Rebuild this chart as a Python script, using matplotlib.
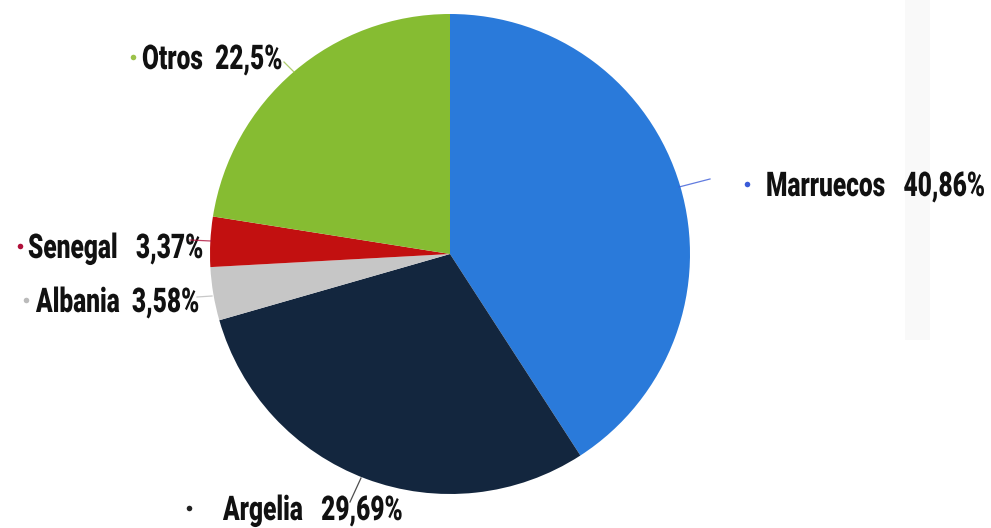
import matplotlib
matplotlib.use("Agg")
from matplotlib import pyplot as plt
from matplotlib.textpath import TextPath
from matplotlib.patches import PathPatch
from matplotlib.font_manager import FontProperties
from matplotlib.transforms import Affine2D

countries = ["Marruecos", "Argelia", "Albania", "Senegal", "Otros"]
shares = [40.86, 29.69, 3.58, 3.37, 22.5]
share_labels = ["40,86%", "29,69%", "3,58%", "3,37%", "22,5%"]
colors = ["#2a7ada", "#13263e", "#c6c6c6", "#c21010", "#86bc32"]
dot_colors = ["#3a5bd8", "#222222", "#bbbbbb", "#b0103a", "#9cc24a"]

# label placement in pixels (dot x, dot y, text start x), leader line start/end
label_pos = [(747, 184, 766), (189, 508, 223), (26, 300, 36), (20, 246, 28), (133, 57, 142)]
text_gap = ["   ", "   ", "  ", "   ", "  "]
leaders = [((679, 187), (710, 179)),
           ((361, 478), (350, 502)),
           ((212, 296), (197, 297)),
           ((211, 241), (190, 240)),
           ((294, 72), (284, 62))]

W, H = 991, 528
fig = plt.figure(figsize=(W / 100, H / 100), dpi=100)
ax = fig.add_axes([0, 0, 1, 1])

ax.pie(shares, colors=colors, startangle=90, counterclock=False,
       center=(450, H - 254), radius=240, frame=True,
       wedgeprops={"linewidth": 0})
ax.set_xlim(0, W)
ax.set_ylim(0, H)
ax.set_aspect("equal")
ax.axis("off")

# faint shadow band on the right, as in the screenshot
ax.axvspan(905, 930, ymin=(H - 340) / H, ymax=1, color="#f9f9f9", lw=0, zorder=0)

prop = FontProperties(family="Roboto", weight="black")
squeeze = 0.72
for i in range(len(countries)):
    x, y, tx = label_pos[i]
    (x0, y0), (x1, y1) = leaders[i]
    ax.plot([x0, x1], [H - y0, H - y1], color=dot_colors[i], lw=0.9, alpha=0.8)
    ax.plot(x, H - y, "o", ms=4, color=dot_colors[i], mec="none")
    tp = TextPath((0, 0), countries[i] + text_gap[i] + share_labels[i], size=34, prop=prop)
    tr = Affine2D().scale(squeeze, 1).translate(tx, H - y - 12)
    ax.add_patch(PathPatch(tr.transform_path(tp), color="#111111", lw=0))

fig.savefig("out.png", dpi=100, facecolor="white")
